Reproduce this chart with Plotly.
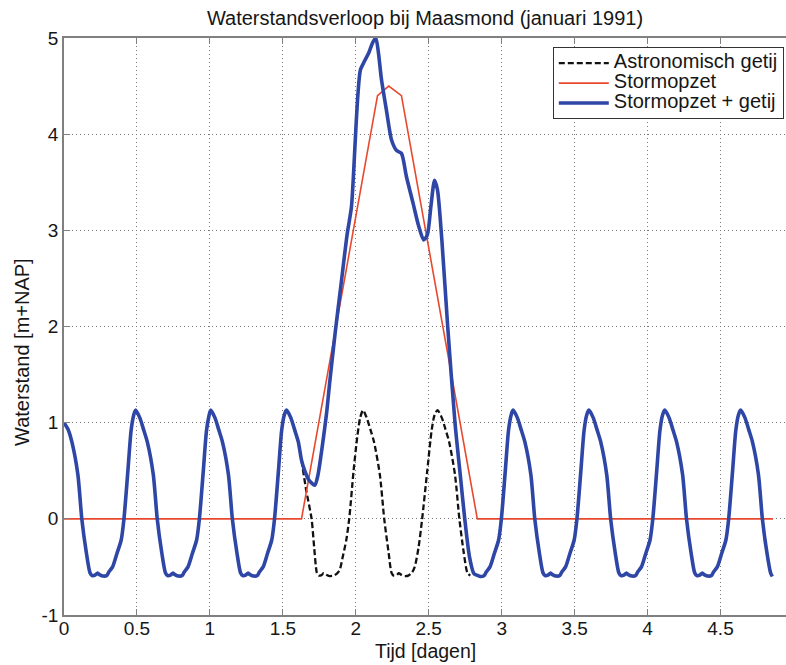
import plotly.graph_objects as go

# ---------------- data ----------------
blue_t = [
    0.000, 0.028, 0.054, 0.095, 0.122, 0.153, 0.178, 0.193, 0.213, 0.228, 0.243, 0.268, 0.293, 0.308, 0.333, 0.363, 0.392, 0.411, 0.438, 0.460, 0.478,
    0.490, 0.520, 0.545, 0.571, 0.612, 0.639, 0.670, 0.695, 0.710, 0.730, 0.745, 0.760, 0.785, 0.810, 0.825, 0.850, 0.880, 0.909, 0.928, 0.955, 0.977, 0.995,
    1.005, 1.035, 1.060, 1.086, 1.127, 1.154, 1.185, 1.210, 1.225, 1.245, 1.260, 1.275, 1.300, 1.325, 1.340, 1.365, 1.395, 1.424, 1.443, 1.470, 1.492, 1.510,
    1.525, 1.555, 1.580, 1.606, 1.628, 1.650, 1.680, 1.719, 1.740, 1.770, 1.800, 1.822, 1.860, 1.900, 1.940, 1.970, 1.985, 2.000, 2.015, 2.032, 2.060, 2.090,
    2.115, 2.137, 2.155, 2.176, 2.210, 2.245, 2.280, 2.313, 2.347, 2.393, 2.430, 2.465, 2.490, 2.515, 2.540, 2.560, 2.590, 2.630, 2.680, 2.720, 2.747, 2.780,
    2.810, 2.830, 2.855, 2.880, 2.895, 2.920, 2.950, 2.979, 2.998, 3.025, 3.047, 3.065,
    3.078, 3.108, 3.133, 3.159, 3.200, 3.227, 3.258, 3.283, 3.298, 3.318, 3.333, 3.348, 3.373, 3.398, 3.413, 3.438, 3.468, 3.497, 3.516, 3.543, 3.565, 3.583,
    3.598, 3.628, 3.653, 3.679, 3.720, 3.747, 3.778, 3.803, 3.818, 3.838, 3.853, 3.868, 3.893, 3.918, 3.933, 3.958, 3.988, 4.017, 4.036, 4.063, 4.085, 4.103,
    4.118, 4.148, 4.173, 4.199, 4.240, 4.267, 4.298, 4.323, 4.338, 4.358, 4.373, 4.388, 4.413, 4.438, 4.453, 4.478, 4.508, 4.537, 4.556, 4.583, 4.605, 4.623,
    4.638, 4.668, 4.693, 4.719, 4.760, 4.787, 4.818, 4.843, 4.855,
]
blue_h = [
    1.00, 0.93, 0.80, 0.46, 0.00, -0.35, -0.56, -0.59, -0.585, -0.565, -0.58, -0.595, -0.59, -0.55, -0.50, -0.36, -0.22, 0.00, 0.50, 0.92, 1.08,
    1.13, 1.05, 0.93, 0.80, 0.46, 0.00, -0.35, -0.56, -0.59, -0.585, -0.565, -0.58, -0.595, -0.59, -0.55, -0.50, -0.36, -0.22, 0.00, 0.50, 0.92, 1.08,
    1.13, 1.05, 0.93, 0.80, 0.46, 0.00, -0.35, -0.56, -0.59, -0.585, -0.565, -0.58, -0.595, -0.59, -0.55, -0.50, -0.36, -0.22, 0.00, 0.50, 0.92, 1.08,
    1.13, 1.05, 0.93, 0.80, 0.61, 0.50, 0.40, 0.35, 0.45, 0.75, 1.10, 1.43, 1.95, 2.45, 2.95, 3.24, 3.60, 4.04, 4.42, 4.67, 4.76, 4.85,
    4.95, 5.00, 4.85, 4.57, 4.25, 3.94, 3.83, 3.80, 3.56, 3.28, 3.05, 2.90, 2.95, 3.25, 3.52, 3.42, 2.90, 2.00, 1.00, 0.40, 0.00, -0.40,
    -0.57, -0.585, -0.60, -0.59, -0.55, -0.50, -0.36, -0.22, 0.00, 0.50, 0.92, 1.08,
    1.13, 1.05, 0.93, 0.80, 0.46, 0.00, -0.35, -0.56, -0.59, -0.585, -0.565, -0.58, -0.595, -0.59, -0.55, -0.50, -0.36, -0.22, 0.00, 0.50, 0.92, 1.08,
    1.13, 1.05, 0.93, 0.80, 0.46, 0.00, -0.35, -0.56, -0.59, -0.585, -0.565, -0.58, -0.595, -0.59, -0.55, -0.50, -0.36, -0.22, 0.00, 0.50, 0.92, 1.08,
    1.13, 1.05, 0.93, 0.80, 0.46, 0.00, -0.35, -0.56, -0.59, -0.585, -0.565, -0.58, -0.595, -0.59, -0.55, -0.50, -0.36, -0.22, 0.00, 0.50, 0.92, 1.08,
    1.13, 1.05, 0.93, 0.80, 0.46, 0.00, -0.35, -0.56, -0.60,
]

tide_t = [1.628, 1.660, 1.697, 1.715, 1.733, 1.745, 1.765, 1.780, 1.795, 1.820, 1.850, 1.870, 1.890, 1.910, 1.935, 1.955, 1.985,
          2.010, 2.030, 2.050, 2.075, 2.100, 2.125, 2.165, 2.195, 2.225, 2.245, 2.260, 2.280, 2.295, 2.310, 2.335, 2.360, 2.385,
          2.404, 2.430, 2.455, 2.490, 2.520, 2.540, 2.560, 2.590, 2.615, 2.640, 2.680, 2.710, 2.740, 2.765, 2.785]
tide_h = [0.61, 0.30, 0.00, -0.30, -0.56, -0.59, -0.585, -0.565, -0.58, -0.595, -0.59, -0.57, -0.53, -0.40, -0.22, 0.00, 0.50,
          0.85, 1.05, 1.13, 1.05, 0.93, 0.80, 0.46, 0.00, -0.35, -0.56, -0.59, -0.585, -0.565, -0.58, -0.595, -0.59, -0.56,
          -0.50, -0.30, 0.00, 0.50, 0.92, 1.08, 1.13, 1.05, 0.93, 0.80, 0.46, 0.00, -0.35, -0.56, -0.59]

surge_t = [0.0, 1.628, 2.149, 2.226, 2.313, 2.833, 4.860]
surge_h = [0.0, 0.0, 4.40, 4.50, 4.40, 0.0, 0.0]

x_ticks = [0, 0.5, 1, 1.5, 2, 2.5, 3, 3.5, 4, 4.5]
x_ticklabels = ["0", "0.5", "1", "1.5", "2", "2.5", "3", "3.5", "4", "4.5"]
y_ticks = [-1, 0, 1, 2, 3, 4, 5]
y_ticklabels = ["-1", "0", "1", "2", "3", "4", "5"]

title_text = "Waterstandsverloop bij Maasmond (januari 1991)"
x_title = "Tijd [dagen]"
y_title = "Waterstand [m+NAP]"
names = ["Astronomisch getij", "Stormopzet", "Stormopzet + getij"]

# ---------------- figure ----------------
FONT = "Liberation Sans, Arial, sans-serif"
TXT = "#161616"
fig = go.Figure()
fig.add_trace(go.Scatter(x=tide_t, y=tide_h, mode="lines",
                         name='<span style="font-size:20px">' + names[0] + '</span>',
                         line=dict(color="#111111", width=2.3, dash="6px,3px", shape="spline", smoothing=0.7)))
fig.add_trace(go.Scatter(x=surge_t, y=surge_h, mode="lines",
                         name='<span style="font-size:20px">' + names[1] + '</span>',
                         line=dict(color="#E8482E", width=1.6)))
fig.add_trace(go.Scatter(x=blue_t, y=blue_h, mode="lines",
                         name='<span style="font-size:20px">' + names[2] + '</span>',
                         line=dict(color="#2E46A6", width=3.6, shape="spline", smoothing=0.7)))

axis_common = dict(
    showgrid=True, gridcolor="#777777", griddash="1px,3px", gridwidth=1,
    showline=True, linecolor="#808080", linewidth=1.5,
    ticks="inside", ticklen=6, tickcolor="#808080",
    zeroline=False, automargin=False,
    tickfont=dict(family=FONT, size=19, color=TXT),
)

fig.update_layout(
    width=786, height=665,
    margin=dict(l=64, r=0, t=38, b=50, autoexpand=False),
    paper_bgcolor="white", plot_bgcolor="white",
    font=dict(family=FONT, size=20, color=TXT),
    title=dict(text=title_text, x=0.5407, xanchor="center", y=0.973, yanchor="middle",
               font=dict(family=FONT, size=20, color=TXT)),
    xaxis=dict(range=[0, 4.949], tickvals=x_ticks, ticktext=x_ticklabels, mirror="ticks",
               ticklabelstandoff=-5, **axis_common),
    yaxis=dict(range=[-1, 5], tickvals=y_ticks, ticktext=y_ticklabels, mirror=False, **axis_common),
    legend=dict(x=0.677, y=0.984, xanchor="left", yanchor="top",
                bgcolor="white", bordercolor="#333333", borderwidth=1,
                font=dict(family=FONT, size=13, color=TXT),
                tracegroupgap=0, itemwidth=50),
    showlegend=True,
    annotations=[
        dict(text=x_title, xref="paper", yref="paper", x=0.5, y=-0.0624, xanchor="center", yanchor="middle",
             showarrow=False, font=dict(family=FONT, size=19.5, color=TXT)),
        dict(text=y_title, xref="paper", yref="paper", x=-0.0582, y=0.4558, xanchor="center", yanchor="middle",
             textangle=-90, showarrow=False, font=dict(family=FONT, size=20, color=TXT)),
    ],
)

fig.write_html("out.html",
               config={"displayModeBar": False},
               post_script="document.body.style.margin='0';document.body.style.overflow='hidden';")
